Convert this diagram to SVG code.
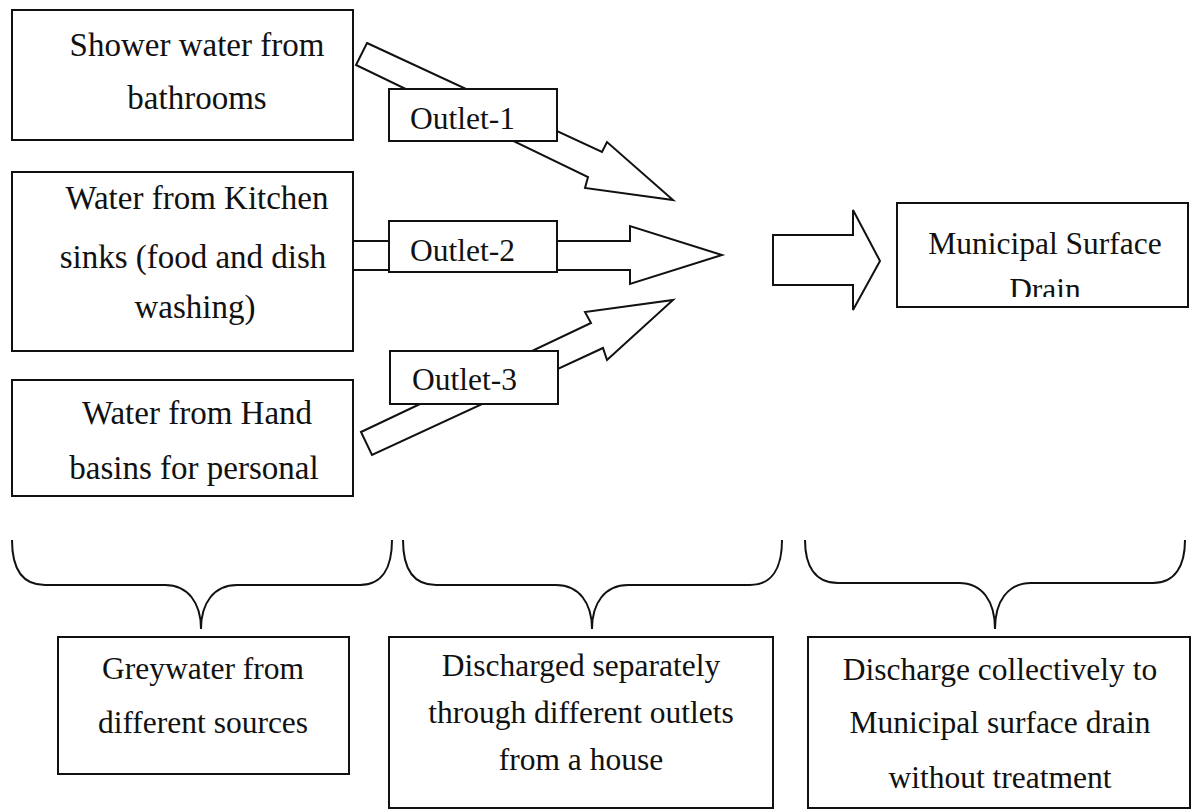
<svg xmlns="http://www.w3.org/2000/svg" width="1193" height="811" viewBox="0 0 1193 811">
<style>
.box{fill:#fff;stroke:#111;stroke-width:2}
.arr{fill:#fff;stroke:#111;stroke-width:2;stroke-linejoin:miter}
.brace{fill:none;stroke:#111;stroke-width:2}
text{font-family:"Liberation Serif","Times New Roman",serif;font-size:31.5px;fill:#111}
.c{text-anchor:middle}
.big{font-size:33px}
</style>
<defs>
<clipPath id="clipDrain"><rect x="898" y="204" width="289" height="93"/></clipPath>
</defs>
<rect width="1193" height="811" fill="#fff"/>
<g id="connectors">
<polygon class="arr" points="367,43 602,152 607,142 673,200 585,188 588,177 356,65"/>
<polygon class="arr" points="353,241 630,241 630,226 722,255 630,284 630,270 353,270"/>
<polygon class="arr" points="361,432 591,323 585,312 673,300 607,360 603,348 372,455"/>
<polygon class="arr" points="773,235 853,235 853,210 880,261 853,310 853,285 773,285"/>
</g>
<g id="src1">
<rect class="box" x="12" y="10" width="341" height="130"/>
<text class="c big" x="197" y="56">Shower water from</text>
<text class="c big" x="197" y="109">bathrooms</text>
</g>
<g id="src2">
<rect class="box" x="12" y="172" width="341" height="179"/>
<text class="c big" x="197" y="209">Water from Kitchen</text>
<text class="c big" x="193" y="268">sinks (food and dish</text>
<text class="c big" x="195" y="318">washing)</text>
</g>
<g id="src3">
<rect class="box" x="12" y="380" width="341" height="116"/>
<text class="c big" x="197" y="424">Water from Hand</text>
<text class="c big" x="194" y="479">basins for personal</text>
</g>
<g id="outlet1">
<rect class="box" x="389" y="89" width="168" height="52"/>
<text x="410" y="129">Outlet-1</text>
</g>
<g id="outlet2">
<rect class="box" x="389" y="221" width="168" height="51"/>
<text x="410" y="261">Outlet-2</text>
</g>
<g id="outlet3">
<rect class="box" x="390" y="351" width="168" height="53"/>
<text x="412" y="390">Outlet-3</text>
</g>
<g id="drain">
<rect class="box" x="897" y="203" width="291" height="104"/>
<text class="c" x="1045" y="254">Municipal Surface</text>
<text class="c" x="1045" y="300" clip-path="url(#clipDrain)">Drain</text>
</g>
<g id="braces">
<path class="brace" d="M12,540 C12,568 22,585 45,585 L165,585 C188,585 201,603 201,629 C201,603 214,585 237,585 L360,585 C382,585 392,568 392,540"/>
<path class="brace" d="M403,540 C403,568 413,585 436,585 L556,585 C579,585 592,603 592,629 C592,603 605,585 628,585 L750,585 C772,585 782,568 782,540"/>
<path class="brace" d="M805,540 C805,566 815,583 838,583 L959,583 C982,583 995,601 995,629 C995,601 1008,583 1031,583 L1153,583 C1175,583 1185,566 1185,540"/>
</g>
<g id="label1">
<rect class="box" x="58" y="637" width="291" height="137"/>
<text class="c" x="203" y="679">Greywater from</text>
<text class="c" x="203" y="733">different sources</text>
</g>
<g id="label2">
<rect class="box" x="389" y="637" width="384" height="171"/>
<text class="c" x="581" y="676">Discharged separately</text>
<text class="c" x="581" y="723">through different outlets</text>
<text class="c" x="581" y="770">from a house</text>
</g>
<g id="label3">
<rect class="box" x="808" y="637" width="382" height="171"/>
<text class="c" x="1000" y="680">Discharge collectively to</text>
<text class="c" x="1000" y="733">Municipal surface drain</text>
<text class="c" x="1000" y="788">without treatment</text>
</g>
</svg>
